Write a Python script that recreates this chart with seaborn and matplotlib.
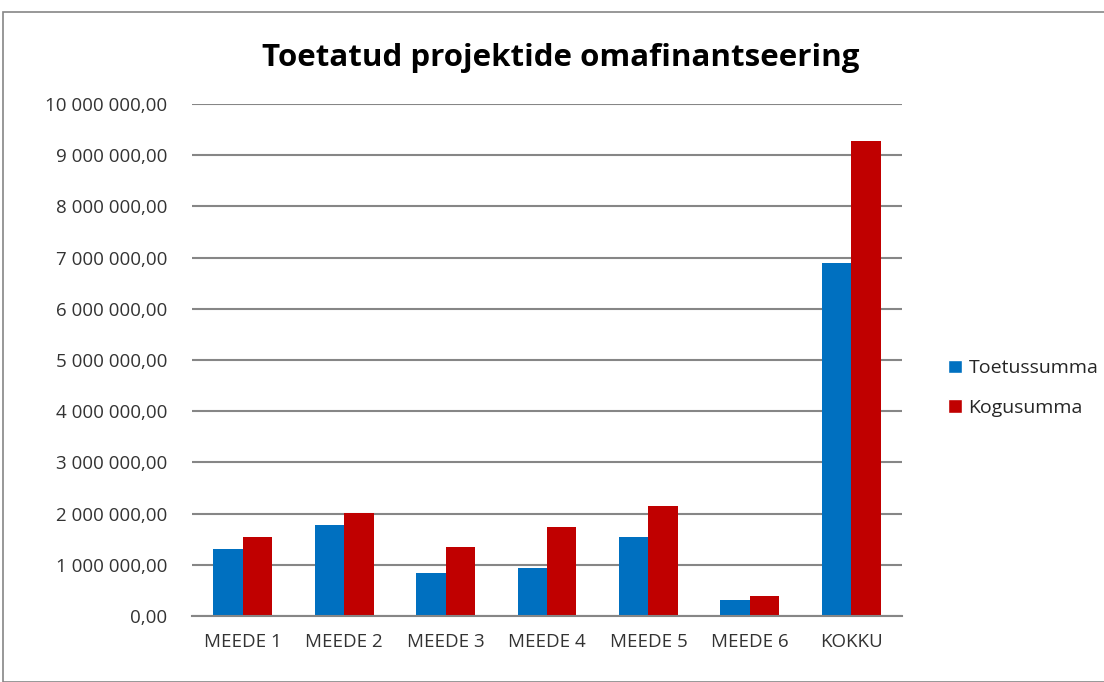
import pandas as pd
import matplotlib.pyplot as plt
import seaborn as sns
from matplotlib.ticker import FuncFormatter, MultipleLocator
from matplotlib.patches import Rectangle, Patch

# andmed (loetud pildilt)
kategooriad = ['MEEDE 1', 'MEEDE 2', 'MEEDE 3', 'MEEDE 4', 'MEEDE 5', 'MEEDE 6', 'KOKKU']
toetussumma = [1310000, 1780000, 840000, 940000, 1550000, 310000, 6900000]
kogusumma = [1550000, 2020000, 1350000, 1740000, 2140000, 390000, 9280000]
seeriad = ['Toetussumma', 'Kogusumma']
varvid = ['#0070C0', '#C00000']

df = pd.DataFrame({
    'kategooria': kategooriad * 2,
    'seeria': [seeriad[0]] * len(kategooriad) + [seeriad[1]] * len(kategooriad),
    'summa': toetussumma + kogusumma,
})

sns.set_style('white')
plt.rcParams['font.family'] = ['Open Sans', 'DejaVu Sans']

fig = plt.figure(figsize=(11.04, 6.82), dpi=100)
ax = fig.add_axes([192 / 1104, 1 - 616 / 682, 710 / 1104, 512 / 682])

sns.barplot(data=df, x='kategooria', y='summa', hue='seeria', palette=varvid,
            width=0.58, saturation=1, linewidth=0, ax=ax, legend=False)

ax.set_ylim(0, 10000000)
ax.set_xlim(-0.5, len(kategooriad) - 0.5)
ax.yaxis.set_major_locator(MultipleLocator(1000000))
ax.yaxis.set_major_formatter(FuncFormatter(
    lambda v, p: f"{v:,.2f}".replace(',', ' ').replace('.', ',')))
ax.grid(axis='y', color='#868686', linewidth=1.5)
ax.set_axisbelow(True)
for s in ['top', 'right', 'left']:
    ax.spines[s].set_visible(False)
ax.spines['bottom'].set_color('#868686')
ax.spines['bottom'].set_linewidth(1.5)
ax.tick_params(axis='both', length=0, labelsize=13.5, colors='#333333')
ax.tick_params(axis='y', pad=18)
ax.tick_params(axis='x', pad=12)
ax.set_xlabel('')
ax.set_ylabel('')

fig.text(0.508, 0.915, 'Toetatud projektide omafinantseering', ha='center', va='center',
         fontsize=22.5, fontweight='bold', color='black')

kastid = [Patch(facecolor=c) for c in varvid]
fig.legend(kastid, seeriad, loc='center left', bbox_to_anchor=(0.843, 0.431),
           frameon=False, fontsize=14, handlelength=0.7, handleheight=0.7,
           handletextpad=0.35, labelspacing=1.1)

# diagrammi raam
fig.patches.append(Rectangle((3 / 1104, 0), 1.1, 1 - 12 / 682, transform=fig.transFigure,
                             fill=False, edgecolor='#868686', linewidth=1.2))

plt.savefig('out.png', dpi=100)
